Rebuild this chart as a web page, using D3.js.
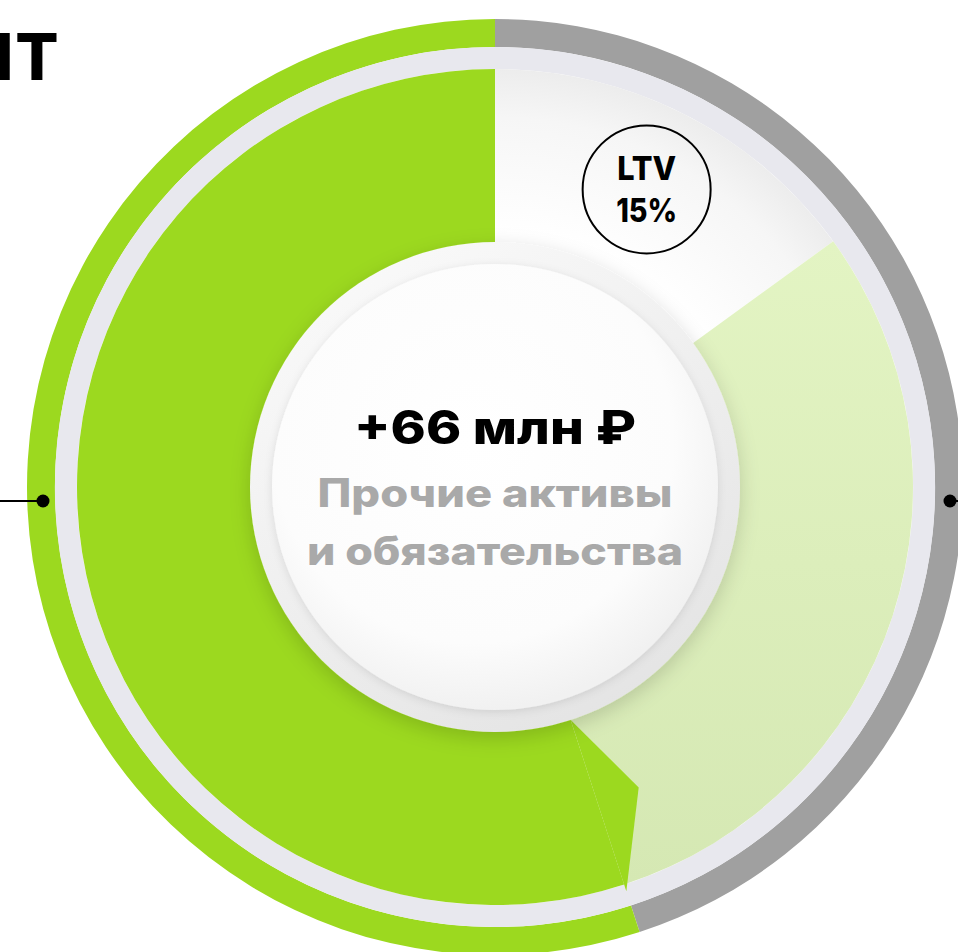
<!DOCTYPE html>
<html><head><meta charset="utf-8">
<script src="https://cdn.jsdelivr.net/npm/d3@7/dist/d3.min.js"></script>
<style>html,body{margin:0;padding:0;background:#fff;overflow:hidden}svg{display:block}</style>
</head><body>
<svg id="c" width="958" height="952"></svg>
<script>
// ---- data ----
const outerLabels = ["Обязательства", "Активы"];
const outerValues = [45, 55];
const innerLabels = ["LTV", "Прочие", "Основные"];
const innerValues = [15, 30, 55];
const centerValue = "+66 млн ₽";
const centerLines = ["Прочие активы", "и обязательства"];
const ltvLines = ["LTV", "15%"];
const titleText = ["КЛИЕН", "Т"];

const svg = d3.select("#c");
const W = 958, H = 952, cx = 495, cy = 487;
const FONT = "Inter, 'Open Sans', 'DejaVu Sans', sans-serif";
const defs = svg.append("defs");

// gradients / filters
const lg = defs.append("linearGradient").attr("id","lgreen").attr("x1","0").attr("y1","0").attr("x2","0").attr("y2","1");
lg.append("stop").attr("offset","0%").attr("stop-color","#e3f4c3");
lg.append("stop").attr("offset","100%").attr("stop-color","#d5e8b3");

const wg = defs.append("radialGradient").attr("id","wseg").attr("gradientUnits","userSpaceOnUse")
  .attr("cx",0).attr("cy",0).attr("r",420);
wg.append("stop").attr("offset","60%").attr("stop-color","#ffffff");
wg.append("stop").attr("offset","88%").attr("stop-color","#f6f6f6");
wg.append("stop").attr("offset","100%").attr("stop-color","#ececec");

const bev = defs.append("linearGradient").attr("id","bevel").attr("x1","0.2").attr("y1","0").attr("x2","0.8").attr("y2","1");
bev.append("stop").attr("offset","0%").attr("stop-color","#fafafa");
bev.append("stop").attr("offset","100%").attr("stop-color","#e3e3e3");

const face = defs.append("radialGradient").attr("id","face").attr("cx","45%").attr("cy","40%").attr("r","60%");
face.append("stop").attr("offset","0%").attr("stop-color","#ffffff");
face.append("stop").attr("offset","75%").attr("stop-color","#fcfcfc");
face.append("stop").attr("offset","100%").attr("stop-color","#f1f1f1");

const sh = defs.append("filter").attr("id","shadow").attr("x","-20%").attr("y","-20%").attr("width","140%").attr("height","140%");
sh.append("feDropShadow").attr("dx",0).attr("dy",6).attr("stdDeviation",10).attr("flood-color","#000").attr("flood-opacity",0.16);
const sh2 = defs.append("filter").attr("id","shadow2").attr("x","-20%").attr("y","-20%").attr("width","140%").attr("height","140%");
sh2.append("feDropShadow").attr("dx",0).attr("dy",2).attr("stdDeviation",4).attr("flood-color","#000").attr("flood-opacity",0.10);

const g = svg.append("g").attr("transform",`translate(${cx},${cy})`);
const pie = d3.pie().sort(null).value(d => d);

// outer ring
const outerColors = ["#a0a0a0", "#9cd91f"];
const arcOuter = d3.arc().innerRadius(440).outerRadius(468);
g.selectAll("path.outer").data(pie(outerValues)).join("path")
  .attr("class","outer").attr("d", arcOuter).attr("fill",(d,i)=>outerColors[i]);

// gap ring
g.append("path").attr("d", d3.arc().innerRadius(418).outerRadius(440).startAngle(0).endAngle(2*Math.PI)())
  .attr("fill","#e8e8ee");

// inner donut
const innerFills = ["url(#wseg)", "url(#lgreen)", "#9cd91f"];
const innerArcs = pie(innerValues);
const arcInner = d3.arc().innerRadius(200).outerRadius(418);
g.selectAll("path.inner").data(innerArcs).join("path")
  .attr("class","inner").attr("d", arcInner).attr("fill",(d,i)=>innerFills[i]);

// green segment notch (boundary kink as in the original artwork)
const b = innerArcs[2].startAngle;
const notch = [d3.pointRadial(b, 245), d3.pointRadial(b - 0.132, 333), d3.pointRadial(b, 425)];
g.append("path").attr("d", d3.line()(notch) + "Z").attr("fill","#9cd91f");

// center disc
g.append("circle").attr("r",245).attr("fill","url(#bevel)").attr("filter","url(#shadow)");
g.append("circle").attr("r",223).attr("fill","url(#face)").attr("filter","url(#shadow2)");

const fit = (sel, w) => { const L = sel.node().getComputedTextLength(); if (L > 0) sel.attr("textLength", w).attr("lengthAdjust","spacingAndGlyphs"); };

// center text
const t1 = g.append("text").attr("x",0).attr("y",444-cy).attr("text-anchor","middle")
  .attr("font-family",FONT).attr("font-weight",800).attr("font-size",46).attr("fill","#000").text(centerValue);
fit(t1, 282);
const gy = [507, 565], gw = [355, 376];
centerLines.forEach((s,i) => {
  const t = g.append("text").attr("x",0).attr("y",gy[i]-cy).attr("text-anchor","middle")
    .attr("font-family",FONT).attr("font-weight",800).attr("font-size",39).attr("fill","#a9a9a9").text(s);
  fit(t, gw[i]);
});

// LTV badge
const ltvPos = d3.pointRadial(innerArcs[0].endAngle * 0.5, 334);
const bg = g.append("g").attr("transform",`translate(${ltvPos[0]},${ltvPos[1]})`);
bg.append("circle").attr("r",64).attr("fill","none").attr("stroke","#000").attr("stroke-width",2);
const lw = [59, 61];
ltvLines.forEach((s,i) => {
  const t = bg.append("text").attr("x",0).attr("y", i===0 ? -9 : 33).attr("text-anchor","middle")
    .attr("font-family",FONT).attr("font-weight",800).attr("font-size",33).attr("fill","#000").text(s);
  fit(t, lw[i]);
});

// connectors
const dotY = cy + 14;
svg.append("line").attr("x1",0).attr("x2",43).attr("y1",dotY).attr("y2",dotY).attr("stroke","#000").attr("stroke-width",2);
svg.append("circle").attr("cx",43).attr("cy",dotY).attr("r",6.5).attr("fill","#000");
svg.append("line").attr("x1",950).attr("x2",W).attr("y1",dotY).attr("y2",dotY).attr("stroke","#000").attr("stroke-width",2);
svg.append("circle").attr("cx",950).attr("cy",dotY).attr("r",6.5).attr("fill","#000");

// title (cut at the left edge)
const fs = 64;
const tt = svg.append("text").attr("x",0).attr("y",80)
  .attr("font-family",FONT).attr("font-weight",800).attr("font-size",fs).attr("fill","#000");
tt.append("tspan").text(titleText[0]);
const tT = tt.append("tspan").text(titleText[1]);
const n = titleText[0].length;
const eH = tt.node().getExtentOfChar(n-1), eT = tt.node().getExtentOfChar(n);
const x0 = (9 + 0.07*fs) - (eH.x + eH.width);
const d = (16 - 0.01*fs) - x0 - eT.x;
tt.attr("x", x0);
tT.attr("dx", d);
</script>
</body></html>
